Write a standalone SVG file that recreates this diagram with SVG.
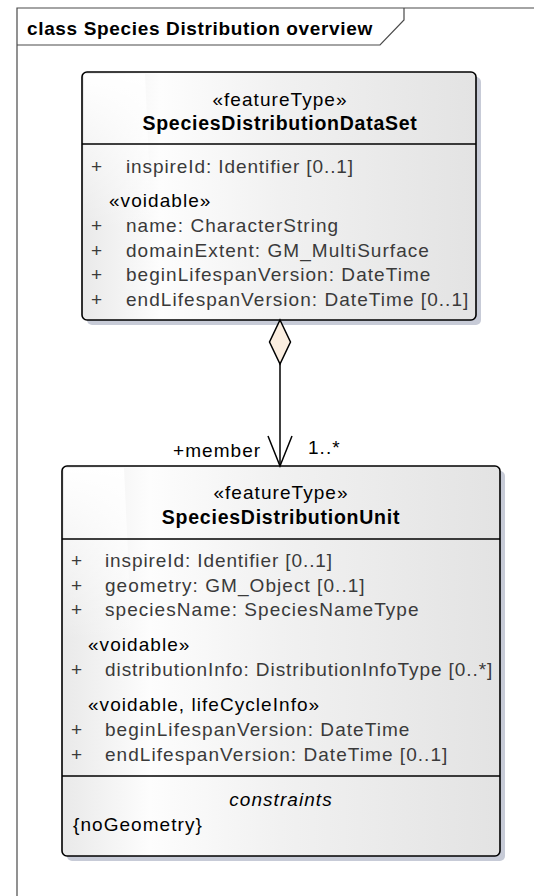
<svg xmlns="http://www.w3.org/2000/svg" width="534" height="896" viewBox="0 0 534 896">
<defs>
<linearGradient id="boxfill" x1="0" y1="0" x2="1" y2="0">
<stop offset="0" stop-color="#e9e9e9"/>
<stop offset="0.2" stop-color="#fdfdfd"/>
<stop offset="0.5" stop-color="#f1f1f1"/>
<stop offset="1" stop-color="#e3e3e3"/>
</linearGradient>
<linearGradient id="wedge" x1="0" y1="0" x2="0" y2="1">
<stop offset="0" stop-color="#ffffff" stop-opacity="1"/>
<stop offset="1" stop-color="#ffffff" stop-opacity="0"/>
</linearGradient>
<style>
.frame{fill:none;stroke:#4a4a4a;stroke-width:1.2}
.shadow{fill:#c7cbd7}
.box{fill:url(#boxfill);stroke:#000;stroke-width:1.6}
.sep{stroke:#000;stroke-width:1.5}
.t{font-family:"Liberation Sans",Arial,sans-serif;font-size:19px;letter-spacing:1.05px;fill:#000}
.a{font-family:"Liberation Sans",Arial,sans-serif;font-size:19px;letter-spacing:1.05px;fill:#3a3a3a}
.b{font-family:"Liberation Sans",Arial,sans-serif;font-size:19.5px;font-weight:bold;letter-spacing:0.75px;fill:#000}
.c{text-anchor:middle}
.i{font-style:italic}
.line{fill:none;stroke:#000;stroke-width:1.5}
</style>
</defs>
<rect width="534" height="896" fill="#ffffff"/>
<g id="frame">
<path class="frame" d="M17,896 V8 H534"/>
<path class="frame" d="M17,45 H380 L404,20 V8"/>
<text x="27" y="35" class="b" style="font-size:19px;letter-spacing:0.65px">class Species Distribution overview</text>
</g>
<g id="SpeciesDistributionDataSet">
<rect class="shadow" x="87" y="77" width="394" height="248" rx="5"/>
<rect class="box" x="82" y="72" width="394" height="248" rx="5"/>
<polygon points="84,74 145,74 152,230 84,230" fill="url(#wedge)"/>
<line class="sep" x1="82" y1="144" x2="476" y2="144"/>
<text x="280" y="106" class="t c">«featureType»</text>
<text x="280" y="130" class="b c">SpeciesDistributionDataSet</text>
<text x="91" y="172.5" class="a">+</text>
<text x="126" y="172.5" class="a" style="letter-spacing:0.9px">inspireId: Identifier [0..1]</text>
<text x="109" y="206.5" class="t">«voidable»</text>
<text x="91" y="232" class="a">+</text>
<text x="126" y="232" class="a">name: CharacterString</text>
<text x="91" y="256.5" class="a">+</text>
<text x="126" y="256.5" class="a">domainExtent: GM_MultiSurface</text>
<text x="91" y="281" class="a">+</text>
<text x="126" y="281" class="a">beginLifespanVersion: DateTime</text>
<text x="91" y="305.5" class="a">+</text>
<text x="126" y="305.5" class="a">endLifespanVersion: DateTime [0..1]</text>
</g>
<g id="SpeciesDistributionUnit">
<rect class="shadow" x="67" y="471" width="438" height="390" rx="5"/>
<rect class="box" x="62" y="466" width="438" height="390" rx="5"/>
<polygon points="64,468 124,468 132,640 64,640" fill="url(#wedge)"/>
<line class="sep" x1="62" y1="539" x2="500" y2="539"/>
<line class="sep" x1="62" y1="776" x2="500" y2="776"/>
<text x="281" y="499" class="t c">«featureType»</text>
<text x="281" y="524" class="b c">SpeciesDistributionUnit</text>
<text x="71" y="567" class="a">+</text>
<text x="105" y="567" class="a" style="letter-spacing:0.9px">inspireId: Identifier [0..1]</text>
<text x="71" y="591.5" class="a">+</text>
<text x="105" y="591.5" class="a">geometry: GM_Object [0..1]</text>
<text x="71" y="616" class="a">+</text>
<text x="105" y="616" class="a">speciesName: SpeciesNameType</text>
<text x="88" y="650.5" class="t">«voidable»</text>
<text x="71" y="676" class="a">+</text>
<text x="105" y="676" class="a" style="letter-spacing:0.93px">distributionInfo: DistributionInfoType [0..*]</text>
<text x="88" y="710.5" class="t">«voidable, lifeCycleInfo»</text>
<text x="71" y="736" class="a">+</text>
<text x="105" y="736" class="a">beginLifespanVersion: DateTime</text>
<text x="71" y="760.5" class="a">+</text>
<text x="105" y="760.5" class="a">endLifespanVersion: DateTime [0..1]</text>
<text x="281" y="806" class="t c i">constraints</text>
<text x="73" y="831" class="t">{noGeometry}</text>
</g>
<g id="connectors">
<polygon points="280,320 290.5,342 280,364 269.5,342" fill="#fbeee0" stroke="#000" stroke-width="1.5"/>
<line class="line" x1="280" y1="364" x2="280" y2="466"/>
<polyline class="line" points="268,436 280,466 292,436"/>
<text x="173" y="456.5" class="t">+member</text>
<text x="308" y="454" class="t">1..*</text>
</g>
</svg>
